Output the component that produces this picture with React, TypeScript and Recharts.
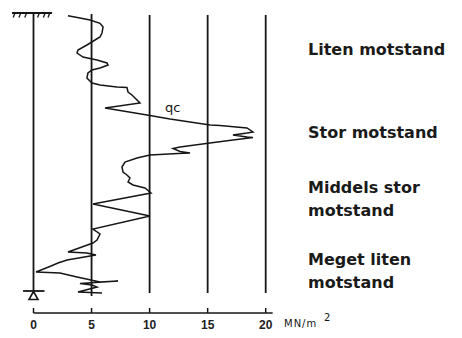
import React from 'react';
import { ScatterChart, Scatter, XAxis, YAxis, ReferenceLine, ReferenceDot } from 'recharts';

// cone resistance qc (MN/m2) vs depth (relative units, 0 = ground surface)
const qcValues = [2.97, 4.0, 4.87, 5.73, 5.99, 5.9, 5.73, 5.3, 4.6, 3.83, 3.75, 4.26, 5.47, 6.33, 6.42, 5.73, 5.04, 4.69, 4.6, 5.04,
  5.73, 7.19, 8.05, 8.14, 8.48, 8.83, 9.17, 6.16, 9.78, 11.76, 15.2, 16.06, 18.39, 18.9, 18.39, 17.18, 18.39, 18.9, 17.18, 15.2,
  12.62, 12.02, 12.62, 13.48, 12.45, 10.03, 8.91, 7.88, 7.62, 7.71, 8.05, 8.31, 8.14, 8.57, 9.6, 10.12, 5.12, 10.03, 5.12, 5.73,
  5.47, 5.12, 2.97, 4.6, 5.38, 2.89, 2.11, 1.51, 0.22, 2.28, 3.75, 5.73, 7.28, 4.0, 5.04, 5.47, 3.83, 5.9];
const depthValues = [0.37, 0.6, 0.8, 1.13, 1.5, 2.1, 2.5, 2.8, 3.3, 3.8, 4.1, 4.5, 4.8, 5.1, 5.3, 5.6, 5.8, 6.1, 6.6, 7.1,
  7.3, 7.5, 7.55, 8.0, 8.3, 8.7, 9.1, 9.6, 10.3, 10.7, 11.3, 11.35, 11.6, 12.0, 12.1, 12.3, 12.5, 12.55, 12.8, 13.1,
  13.5, 13.65, 13.95, 14.1, 14.15, 14.3, 14.6, 15.0, 15.5, 16.0, 16.3, 16.6, 17.0, 17.3, 17.6, 18.1, 19.2, 20.4, 21.7, 22.2,
  22.8, 23.1, 24.0, 24.1, 24.3, 24.8, 25.1, 25.4, 26.0, 26.1, 26.5, 27.0, 26.9, 27.15, 27.3, 27.5, 28.0, 28.1];

const xTicks = [0, 5, 10, 15, 20];
const gridTop = [0, 0.2, 0.3, 0.3, 0.3];
const gridBottom = [27.9, 28.4, 28.1, 28.1, 28.1];
const axisDepth = 30.1;
const axisEnd = 20.6;
const zoneLabels = [
  ['Liten motstand'],
  ['Stor motstand'],
  ['Middels stor', 'motstand'],
  ['Meget liten', 'motstand'],
];
const zoneBaselines = [46.5, 130, 185, 257];

const data = qcValues.map((q, i) => ({ q, depth: depthValues[i] }));

const W = 454;
const H = 330;
const INK = '#161616';

const Empty = () => <g />;

const Triangle = (props: any) => {
  const { cx, cy } = props;
  if (cx == null || cy == null) return <g />;
  return <path d={`M${cx},${cy - 1} L${cx + 4.5},${cy + 7} L${cx - 4.5},${cy + 7} Z`} fill="none" stroke={INK} strokeWidth={1.6} />;
};

export default function App() {
  return (
    <div style={{ position: 'relative', width: W, height: H }}>
      <ScatterChart width={W} height={H} margin={{ top: 4, right: 196.3, bottom: 0, left: 25.5 }}>
        <XAxis
          type="number"
          dataKey="q"
          domain={[0, 20]}
          ticks={xTicks}
          axisLine={false}
          tickLine={false}
          tickSize={0}
          tickMargin={7}
          height={25}
          tick={{ fill: '#222', fontSize: 12, fontWeight: 'bold', fontFamily: 'Liberation Sans, Arial, sans-serif' }}
        />
        <YAxis type="number" dataKey="depth" domain={[0, axisDepth]} reversed hide width={0} />
        {xTicks.map((t, i) => (
          <ReferenceLine
            key={'g' + t}
            segment={[{ x: t, y: gridTop[i] }, { x: t, y: gridBottom[i] }]}
            stroke={INK}
            strokeWidth={1.8}
            ifOverflow="visible"
          />
        ))}
        {/* ground surface symbol */}
        <ReferenceLine segment={[{ x: -1.85, y: 0.1 }, { x: 1.6, y: 0.1 }]} stroke={INK} strokeWidth={2} ifOverflow="visible" />
        {[-1.6, -1.1, -0.6, 0.5, 1.0, 1.4].map((gx) => (
          <ReferenceLine key={'h' + gx} segment={[{ x: gx, y: 0.1 }, { x: gx - 0.15, y: 0.55 }]} stroke={INK} strokeWidth={1.3} ifOverflow="visible" />
        ))}
        {/* end of sounding */}
        <ReferenceLine segment={[{ x: -0.9, y: 27.9 }, { x: 0.95, y: 27.9 }]} stroke={INK} strokeWidth={1.8} ifOverflow="visible" />
        <ReferenceDot x={0} y={28.05} r={0} shape={Triangle} ifOverflow="visible" />
        {/* x axis */}
        <ReferenceLine segment={[{ x: 0, y: axisDepth }, { x: axisEnd, y: axisDepth }]} stroke={INK} strokeWidth={1.5} ifOverflow="visible" />
        {xTicks.map((t) => (
          <ReferenceLine key={'t' + t} segment={[{ x: t, y: axisDepth - 0.5 }, { x: t, y: axisDepth }]} stroke={INK} strokeWidth={1.5} ifOverflow="visible" />
        ))}
        <Scatter
          data={data}
          line={{ stroke: INK, strokeWidth: 1.5 }}
          lineType="joint"
          lineJointType="linear"
          shape={Empty}
          isAnimationActive={false}
        />
      </ScatterChart>
      <svg width={W} height={H} style={{ position: 'absolute', left: 0, top: 0, pointerEvents: 'none' }}>
        <text x={157} y={104} fontSize={13} fontFamily="DejaVu Sans, sans-serif" fill={INK}>qc</text>
        <text x={276} y={319} fontSize={10} letterSpacing={1} fontFamily="DejaVu Sans, sans-serif" fill={INK}>MN/m</text>
        <text x={316} y={313} fontSize={10} fontFamily="DejaVu Sans, sans-serif" fill={INK}>2</text>
        {zoneLabels.map((lines, i) =>
          lines.map((s, j) => (
            <text key={s + i + j} x={300} y={zoneBaselines[i] + j * 22.5} fontSize={16} fontWeight="bold" fontFamily="DejaVu Sans, sans-serif" fill="#1a1a1a">
              {s}
            </text>
          ))
        )}
      </svg>
    </div>
  );
}
